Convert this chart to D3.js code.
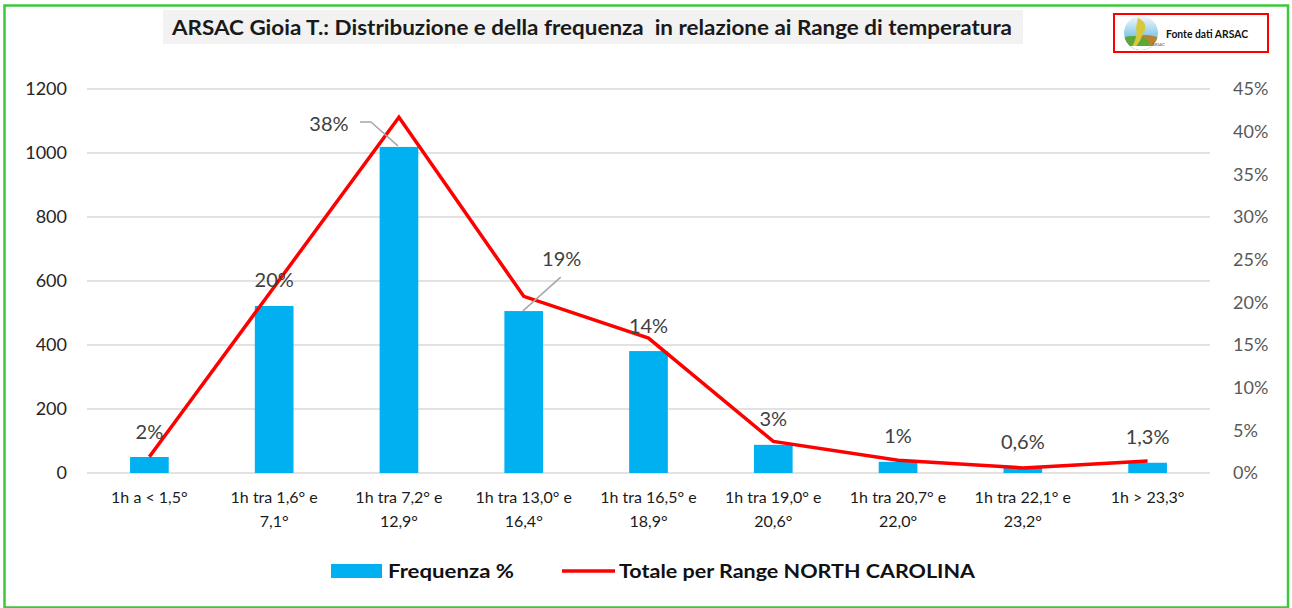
<!DOCTYPE html>
<html><head><meta charset="utf-8">
<script src="https://cdn.jsdelivr.net/npm/d3@7/dist/d3.min.js"></script>
<style>
html,body{margin:0;padding:0;background:#fff;}
svg{display:block;font-family:Lato,"Open Sans",sans-serif;}
</style></head>
<body>
<svg id="chart" width="1292" height="608"></svg>
<script>
// ---- data ----
const categories = ["1h a < 1,5°", "1h tra 1,6° e\n7,1°", "1h tra 7,2° e\n12,9°", "1h tra 13,0° e\n16,4°",
  "1h tra 16,5° e\n18,9°", "1h tra 19,0° e\n20,6°", "1h tra 20,7° e\n22,0°", "1h tra 22,1° e\n23,2°", "1h > 23,3°"];
const frequenza = [50, 522, 1019, 506, 381, 88, 35, 16, 32];
const totaleNorthCarolina = [0.019, 0.218, 0.417, 0.207, 0.158, 0.037, 0.015, 0.006, 0.014];
const barLabels = ["2%", "20%", "38%", "19%", "14%", "3%", "1%", "0,6%", "1,3%"];
const leftTicks = [0, 200, 400, 600, 800, 1000, 1200];
const rightTicks = [0, 0.05, 0.10, 0.15, 0.20, 0.25, 0.30, 0.35, 0.40, 0.45];
const titleText = "ARSAC Gioia T.: Distribuzione e della frequenza  in relazione ai Range di temperatura";
const seriesNames = ["Frequenza %", "Totale per Range NORTH CAROLINA"];

// ---- layout ----
const svg = d3.select("#chart");
const plot = {left: 87, right: 1210, top: 89, bottom: 473};
const x = d3.scaleBand().domain(categories).range([plot.left, plot.right]).paddingInner(0.69).paddingOuter(0.345);
const yL = d3.scaleLinear().domain([0, 1200]).range([plot.bottom, plot.top]);
const yR = d3.scaleLinear().domain([0, 0.45]).range([plot.bottom, plot.top]);
const cx = c => x(c) + x.bandwidth() / 2;

// outer green border
svg.append("rect").attr("x", 4.5).attr("y", 5.5).attr("width", 1283.5).attr("height", 602)
  .attr("fill", "none").attr("stroke", "#3cc83c").attr("stroke-width", 2.5);

// title
svg.append("rect").attr("x", 163).attr("y", 10).attr("width", 860).attr("height", 34).attr("fill", "#f2f2f2");
svg.append("text").attr("x", 172).attr("y", 35).attr("font-size", 20).attr("font-weight", "bold")
  .attr("fill", "#1a1a1a").attr("textLength", 840).attr("lengthAdjust", "spacingAndGlyphs")
  .style("white-space", "pre").text(titleText);

// logo box
const logo = svg.append("g");
logo.append("rect").attr("x", 1114).attr("y", 14).attr("width", 154).attr("height", 38)
  .attr("fill", "#fff").attr("stroke", "#ff0000").attr("stroke-width", 2);
const defs = svg.append("defs");
defs.append("clipPath").attr("id", "logoclip").append("circle").attr("cx", 1141).attr("cy", 33).attr("r", 17);
const grad = defs.append("linearGradient").attr("id", "sky").attr("x1", 0).attr("y1", 0).attr("x2", 0).attr("y2", 1);
grad.append("stop").attr("offset", "0%").attr("stop-color", "#ffffff");
grad.append("stop").attr("offset", "60%").attr("stop-color", "#7cc3e6");
const lg = logo.append("g").attr("clip-path", "url(#logoclip)");
lg.append("rect").attr("x", 1122).attr("y", 14).attr("width", 40).attr("height", 40).attr("fill", "url(#sky)");
lg.append("ellipse").attr("cx", 1145).attr("cy", 47).attr("rx", 22).attr("ry", 12).attr("fill", "#b5852e");
lg.append("ellipse").attr("cx", 1133).attr("cy", 44).attr("rx", 16).attr("ry", 8).attr("fill", "#5fa63a");
lg.append("path").attr("d", "M1138,18 C1148,22 1146,30 1142,36 C1140,42 1136,46 1134,50 L1131,50 C1134,42 1138,36 1136,28 Z")
  .attr("fill", "#d8c93a");
lg.append("rect").attr("x", 1122).attr("y", 46).attr("width", 40).attr("height", 8).attr("fill", "#fff");
logo.append("text").attr("x", 1152).attr("y", 46).attr("font-size", 4).attr("fill", "#555").text("ARSAC");
logo.append("text").attr("x", 1166).attr("y", 38).attr("font-size", 11).attr("font-weight", "bold")
  .attr("fill", "#111").attr("textLength", 82).attr("lengthAdjust", "spacingAndGlyphs").text("Fonte dati ARSAC");

// gridlines
svg.append("g").selectAll("line").data(leftTicks).join("line")
  .attr("x1", plot.left).attr("x2", plot.right)
  .attr("y1", d => yL(d)).attr("y2", d => yL(d))
  .attr("stroke", "#d9d9d9").attr("stroke-width", 1.5);

// left axis
const axL = svg.append("g").attr("transform", `translate(${plot.left - 20},0)`)
  .call(d3.axisLeft(yL).tickValues(leftTicks).tickFormat(d3.format("d")).tickSize(0).tickPadding(0));
axL.select(".domain").remove();
axL.selectAll("text").attr("font-size", 18).attr("fill", "#262626").attr("font-family", "Lato");

// right axis
const axR = svg.append("g").attr("transform", `translate(${plot.right + 23},0)`)
  .call(d3.axisRight(yR).tickValues(rightTicks).tickFormat(d3.format(".0%")).tickSize(0).tickPadding(0));
axR.select(".domain").remove();
axR.selectAll("text").attr("font-size", 18).attr("fill", "#595959").attr("font-family", "Lato");

// x axis labels
const axX = svg.append("g");
categories.forEach(c => {
  const t = axX.append("text").attr("x", cx(c)).attr("y", 503).attr("text-anchor", "middle")
    .attr("font-size", 16).attr("fill", "#1a1a1a");
  c.split("\n").forEach((ln, j) => {
    t.append("tspan").attr("x", cx(c)).attr("dy", j === 0 ? 0 : 23.5).text(ln);
  });
});

// bars
svg.append("g").selectAll("rect").data(frequenza).join("rect")
  .attr("x", (d, i) => x(categories[i])).attr("width", x.bandwidth())
  .attr("y", d => yL(d)).attr("height", d => yL(0) - yL(d))
  .attr("fill", "#00b0f0");

// line
const line = d3.line().x((d, i) => cx(categories[i])).y(d => yR(d));
svg.append("path").datum(totaleNorthCarolina).attr("d", line)
  .attr("fill", "none").attr("stroke", "#ff0000").attr("stroke-width", 3.5).attr("stroke-linejoin", "miter");

// data labels
const lbl = svg.append("g");
barLabels.forEach((t, i) => {
  const xc = cx(categories[i]), yt = yL(frequenza[i]);
  let tx = xc, ty = yt - 18.5;
  if (i === 2) {
    tx = xc - 70; ty = yt - 16;
    lbl.append("polyline").attr("points", `${xc - 39},${yt - 25} ${xc - 28},${yt - 25} ${xc - 1},${yt - 1}`)
      .attr("fill", "none").attr("stroke", "#a6a6a6").attr("stroke-width", 1.5);
  }
  if (i === 3) {
    tx = xc + 38; ty = yt - 45;
    lbl.append("line").attr("x1", xc + 37).attr("y1", yt - 34).attr("x2", xc - 1).attr("y2", yt)
      .attr("stroke", "#a6a6a6").attr("stroke-width", 1.5);
  }
  lbl.append("text").attr("x", tx).attr("y", ty).attr("text-anchor", "middle")
    .attr("font-size", 20).attr("fill", "#404040").text(t);
});

// legend
const leg = svg.append("g");
leg.append("rect").attr("x", 331).attr("y", 564).attr("width", 51).attr("height", 14).attr("fill", "#00b0f0");
leg.append("text").attr("x", 388).attr("y", 578).attr("font-size", 18).attr("font-weight", "bold")
  .attr("fill", "#111").attr("textLength", 126).attr("lengthAdjust", "spacingAndGlyphs").text(seriesNames[0]);
leg.append("line").attr("x1", 562).attr("x2", 615).attr("y1", 571).attr("y2", 571)
  .attr("stroke", "#ff0000").attr("stroke-width", 3.5);
leg.append("text").attr("x", 619).attr("y", 578).attr("font-size", 18).attr("font-weight", "bold")
  .attr("fill", "#111").attr("textLength", 356).attr("lengthAdjust", "spacingAndGlyphs").text(seriesNames[1]);
</script>
</body></html>
